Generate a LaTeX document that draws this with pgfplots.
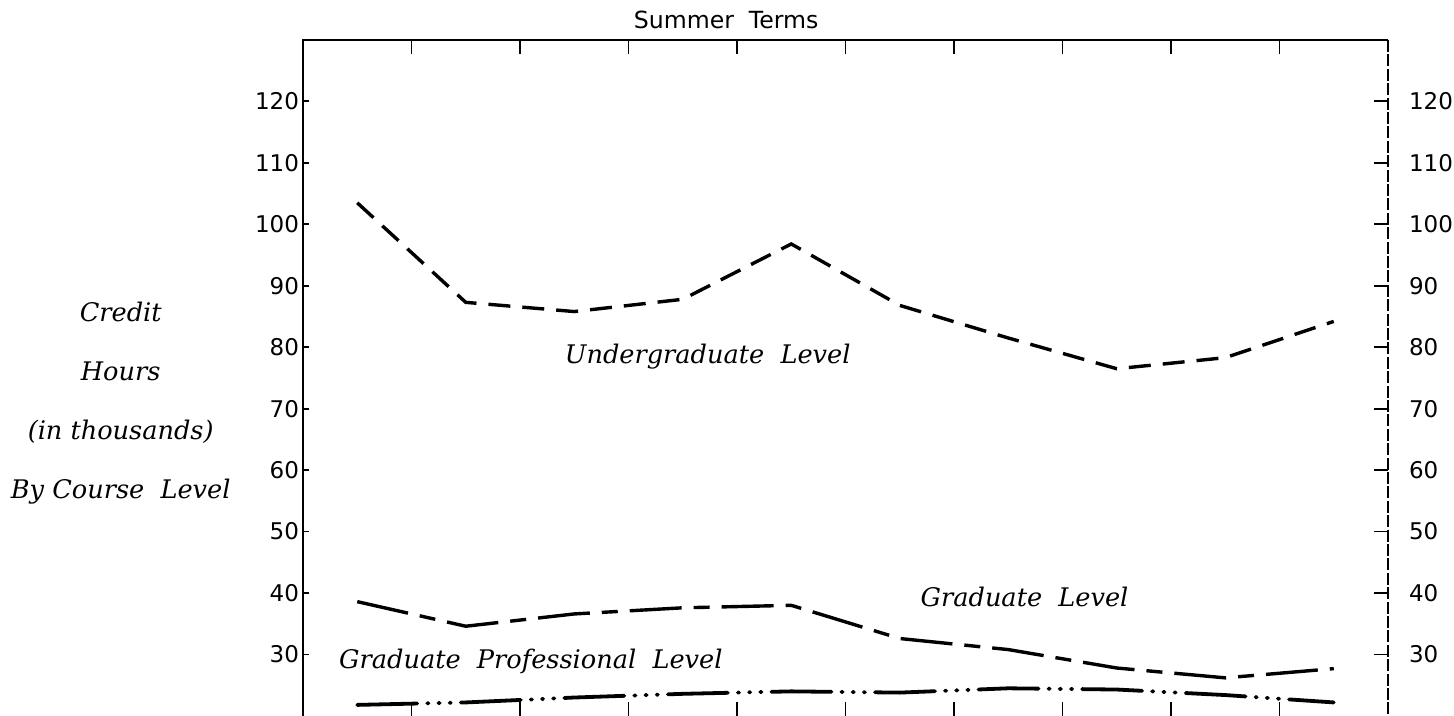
\documentclass[border=0pt]{standalone}
\usepackage{fontspec}
\usepackage{pgfplots}
\usepackage{pgfplotstable}
\pgfplotsset{compat=1.18}
\setmainfont{DejaVu Serif}
\newfontfamily\tickfont{DejaVu Sans}

\pgfplotstableread{
x under grad prof
0.5 103.5 38.6 21.8
1.5 87.3 34.6 22.2
2.5 85.8 36.6 23.0
3.5 87.8 37.6 23.6
4.5 96.8 38.0 24.0
5.5 86.8 32.6 23.8
6.5 81.5 30.8 24.5
7.5 76.5 27.8 24.3
8.5 78.3 26.2 23.4
9.5 84.2 27.7 22.2
}\datatable

\newcommand{\labfont}{\itshape\fontsize{12.8}{14}\selectfont}

\begin{document}
\begin{tikzpicture}
\begin{axis}[
  scale only axis, width=542.5pt, height=338pt,
  xmin=0, xmax=10, ymin=20, ymax=130,
  axis line style={draw=none},
  xtick={1,2,...,9}, xticklabels={},
  xtick pos=both,
  ytick={30,40,...,120},
  ytick pos=right, yticklabel pos=right,
  tick align=inside,
  major tick length=7pt,
  tick style={black, line width=0.9pt},
  /pgf/number format/assume math mode=true,
  yticklabel style={font=\tickfont\fontsize{11.5}{12}\selectfont, xshift=7pt},
  clip=false,
]
\draw[line width=1.3pt] (rel axis cs:0,0) -- (rel axis cs:0,1) -- (rel axis cs:1,1);
\draw[line width=0.8pt, dash pattern=on 6pt off 1.2pt] (rel axis cs:1,1) -- (rel axis cs:1,0);

\addplot[black, line width=1.7pt, dash pattern=on 11pt off 6pt] table[x=x,y=under]{\datatable};
\addplot[black, line width=1.7pt, dash pattern=on 26pt off 6pt on 8pt off 6pt] table[x=x,y=grad]{\datatable};
\addplot[black, line width=1.9pt, line cap=round, dash pattern=on 30pt off 5pt on 0.6pt off 5pt on 0.6pt off 5pt on 0.6pt off 5pt] table[x=x,y=prof]{\datatable};

\node[font=\tickfont\fontsize{11.8}{12}\selectfont] at (axis cs:3.9,133.2) {Summer\ \ Terms};

\node[font=\labfont] at (axis cs:-1.68,85.8) {Credit};
\node[font=\labfont] at (axis cs:-1.68,76.1) {Hours};
\node[font=\labfont] at (axis cs:-1.68,66.3) {(in thousands)};
\node[font=\labfont] at (axis cs:-1.68,56.5) {By\ Course\ \ Level};

\node[font=\labfont] at (axis cs:3.73,78.5) {Undergraduate\ \ Level};
\node[font=\labfont] at (axis cs:6.65,39.3) {Graduate\ \ Level};
\node[font=\labfont] at (axis cs:2.1,28.9) {Graduate\ \ Professional\ \ Level};

\coordinate (BL) at (axis cs:-2.7926,20);
\coordinate (TR) at (axis cs:10.608,136.5);
\end{axis}
\begin{axis}[
  scale only axis, width=542.5pt, height=338pt,
  xmin=0, xmax=10, ymin=20, ymax=130,
  axis line style={draw=none},
  xtick=\empty,
  ytick={30,40,...,120},
  ytick pos=left, yticklabel pos=left,
  tick align=inside,
  major tick length=3pt,
  tick style={black, line width=0.9pt},
  /pgf/number format/assume math mode=true,
  yticklabel style={font=\tickfont\fontsize{11.5}{12}\selectfont, xshift=1.5pt},
]
\end{axis}
\pgfresetboundingbox
\path (BL) rectangle (TR);
\end{tikzpicture}
\end{document}
